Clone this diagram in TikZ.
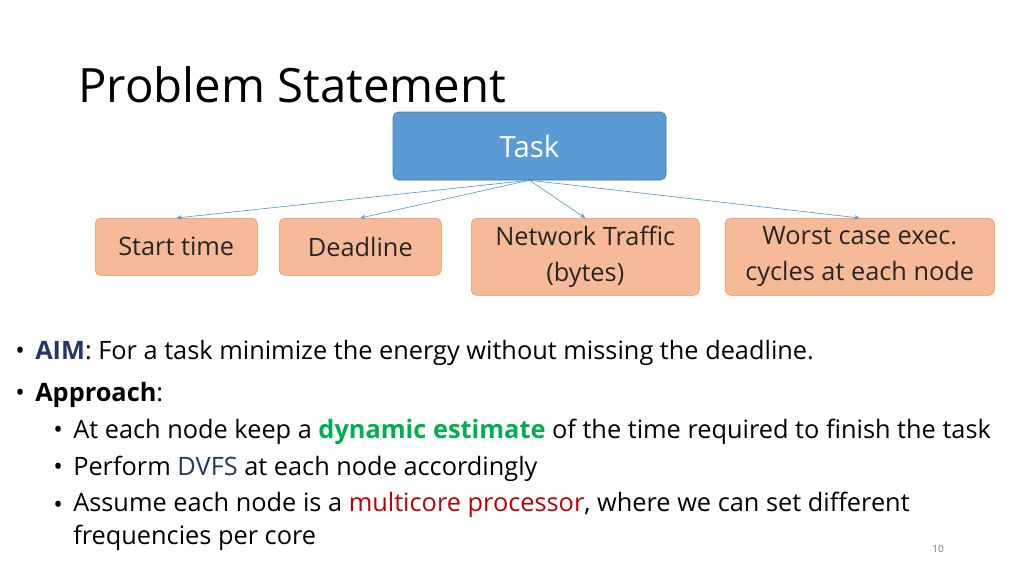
\documentclass[tikz,border=0pt]{standalone}
\usepackage{fontspec}
\setmainfont{Open Sans}
\usetikzlibrary{arrows.meta,positioning}
\definecolor{taskblue}{HTML}{5B9BD5}
\definecolor{taskedge}{HTML}{41719C}
\definecolor{boxfill}{HTML}{F7BA98}
\definecolor{boxedge}{HTML}{F08A5A}
\definecolor{linkblue}{HTML}{5B9BD5}
\definecolor{aimblue}{HTML}{203864}
\definecolor{dyngreen}{HTML}{00B050}
\definecolor{mcred}{HTML}{C00000}

\begin{document}
\begin{tikzpicture}[x=0.75pt,y=-0.75pt,>=Stealth]
  % styles for the boxes and the text lines
  \tikzset{
    task/.style  = {draw=taskedge, fill=taskblue, rounded corners=4pt, text=white, font=\fontsize{22}{24}\selectfont, minimum width=204.75pt, minimum height=51pt, inner sep=0pt},
    attr/.style  = {draw=boxedge, fill=boxfill, rounded corners=4pt, text=black!85, align=center, font=\fontsize{19}{27}\selectfont, inner sep=0pt, anchor=north west},
    link/.style  = {draw=linkblue, line width=0.5pt, -{Stealth[length=4pt,width=3.5pt]}},
    txt/.style   = {anchor=west, inner sep=0pt, font=\fontsize{19}{22}\selectfont},
    bul/.style   = {anchor=west, inner sep=0pt, font=\fontsize{19}{22}\selectfont}
  }
  \useasboundingbox (0,0) rectangle (1024,575);

  % title
  \node[anchor=west, inner sep=0pt, font=\fontsize{35.5}{38}\selectfont] (title) at (78,85) {Problem Statement};

  % task and its attributes
  \node[task] (task) at (529.5,146) {Task};
  \node[attr, minimum width=121.5pt, minimum height=42.75pt] (start) at (95,218) {Start time};
  \node[attr, minimum width=171pt, minimum height=57.75pt] (net) at (471,218) {Network Traffic\\(bytes)};
  \node[attr, minimum width=121.5pt, minimum height=42.75pt] (dead) at (279,218) {Deadline};
  \node[attr, minimum width=201.75pt, minimum height=57.75pt] (wcec) at (725,218) {Worst case exec.\\cycles at each node};

  % connectors
  \draw[link] (task.south) -- (start.north);
  \draw[link] (task.south) -- (dead.north);
  \draw[link] (task.south) -- (net.north);
  \draw[link] (task.south) -- (wcec.north);

  % bullets
  \node[bul] (b1) at (15,353) {•};
  \node[txt] (t1) at (35,353) {\textbf{\textcolor{aimblue}{AIM}}: For a task minimize the energy without missing the deadline.};
  \node[bul] (b2) at (15,395) {•};
  \node[txt] (t2) at (35,395) {\textbf{Approach}:};
  \node[bul] (b3) at (53,432) {•};
  \node[txt] (t3) at (73,432) {At each node keep a \textbf{\textcolor{dyngreen}{dynamic estimate}} of the time required to finish the task};
  \node[bul] (b4) at (53,469) {•};
  \node[txt] (t4) at (73,469) {Perform \textcolor{aimblue}{DVFS} at each node accordingly};
  \node[bul] (b5) at (53,507) {•};
  \node[txt, anchor=north west, align=left, font=\fontsize{19}{24.75}\selectfont] (t5) at (73,492) {Assume each node is a \textcolor{mcred}{multicore processor}, where we can set different\\frequencies per core};

  % page number
  \node[inner sep=0pt, text=black!55, font=\fontsize{7.5}{9}\selectfont] (page) at (938,549) {10};
\end{tikzpicture}
\end{document}
